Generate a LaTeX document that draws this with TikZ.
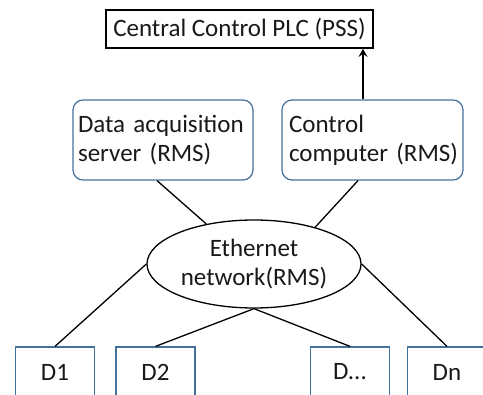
\documentclass[tikz,border=0pt]{standalone}
\usepackage{fontspec}
\setmainfont{Carlito}
\usetikzlibrary{arrows.meta,shapes.geometric}
\definecolor{rmsblue}{RGB}{65,113,156}

\begin{document}
\begin{tikzpicture}[x=1pt,y=-1pt, every node/.style={font=\fontsize{25}{29}\selectfont, text=black!90},
        rmsbox/.style={draw=rmsblue, line width=1.2pt, rounded corners=10pt, minimum width=180pt, minimum height=80pt, align=left},
        devbox/.style={draw=rmsblue, line width=1.2pt, minimum width=79pt, minimum height=50pt},
        link/.style={line width=1.3pt}]

        \useasboundingbox (0,0) rectangle (483,395);
        \clip (0,0) rectangle (483,395);

        %===========================
        % Control level
        %===========================

        \draw node (plc) at (239.5,29) [draw, line width=1.8pt, minimum width=267pt, minimum height=38pt]{Central Control PLC (PSS)};

        \draw node (daq) at (163,140) [rmsbox, inner xsep=5pt, text width=170pt]{Data acquisition\\server (RMS)};
        \draw node (cc) at (372.5,140) [rmsbox, inner xsep=5pt, text width=171pt]{\hspace*{2pt}Control\\\hspace*{2pt}computer (RMS)};
        \draw[-{Stealth[length=8pt,width=9pt,inset=3pt]}, link] ([xshift=-9.5pt]cc.north) to ([xshift=123.5pt]plc.south);

        %===========================
        % Network
        %===========================

        \draw node (eth) at (254,264) [ellipse, draw, line width=1.3pt, minimum width=214pt, minimum height=88pt, inner sep=0pt, align=center]{Ethernet\\network(RMS)};
        \draw[link] ([xshift=-6pt]daq.south) to (eth.140);
        \draw[link] ([xshift=-14.5pt]cc.south) to (eth.31);

        %===========================
        % Devices
        %===========================

        \draw node (d1) at (55,372) [devbox]{D1};
        \draw node (d2) at (155.5,372) [devbox]{D2};
        \draw node (dx) at (350,372) [devbox]{D...};
        \draw node (dn) at (447,372) [devbox]{Dn};

        \draw[link] (eth.west) to (d1.north);
        \draw[link] (eth.south) to (d2.north);
        \draw[link] (eth.south) to (dx.north);
        \draw[link] (eth.east) to (dn.north);
\end{tikzpicture}
\end{document}
